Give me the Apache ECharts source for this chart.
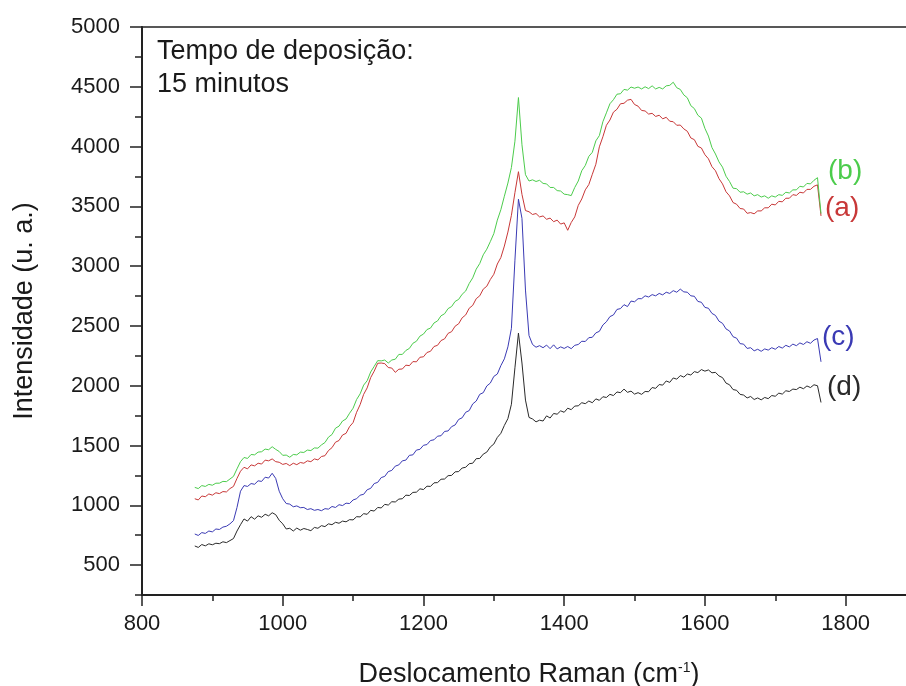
<!DOCTYPE html>
<html>
<head>
<meta charset="utf-8">
<script src="https://cdn.jsdelivr.net/npm/echarts@6/dist/echarts.min.js"></script>
<style>
  html, body { margin: 0; padding: 0; background: #fff; }
  #chart { width: 906px; height: 686px; }
</style>
</head>
<body>
<div id="chart"></div>
<script>
// Raman shift (cm-1) sampled every 5 cm-1
const ramanShift = [
  875,880,885,890,895,900,905,910,915,920,925,930,935,940,945,950,955,960,965,970,
  975,980,985,990,995,1000,1005,1010,1015,1020,1025,1030,1035,1040,1045,1050,1055,1060,1065,1070,
  1075,1080,1085,1090,1095,1100,1105,1110,1115,1120,1125,1130,1135,1140,1145,1150,1155,1160,1165,1170,
  1175,1180,1185,1190,1195,1200,1205,1210,1215,1220,1225,1230,1235,1240,1245,1250,1255,1260,1265,1270,
  1275,1280,1285,1290,1295,1300,1305,1310,1315,1320,1325,1330,1335,1340,1345,1350,1355,1360,1365,1370,
  1375,1380,1385,1390,1395,1400,1405,1410,1415,1420,1425,1430,1435,1440,1445,1450,1455,1460,1465,1470,
  1475,1480,1485,1490,1495,1500,1505,1510,1515,1520,1525,1530,1535,1540,1545,1550,1555,1560,1565,1570,
  1575,1580,1585,1590,1595,1600,1605,1610,1615,1620,1625,1630,1635,1640,1645,1650,1655,1660,1665,1670,
  1675,1680,1685,1690,1695,1700,1705,1710,1715,1720,1725,1730,1735,1740,1745,1750,1755,1760,1765
];

// Spectrum (a)
const spectrumA = [
  1055,1045,1078,1072,1095,1085,1105,1098,1115,1112,1140,1158,1225,1285,1318,1305,1338,1330,1352,1345,
  1378,1372,1388,1365,1360,1342,1350,1332,1352,1340,1358,1352,1372,1365,1388,1380,1408,1415,1458,1482,
  1528,1542,1588,1602,1658,1692,1778,1842,1928,1982,2068,2122,2188,2190,2185,2152,2148,2112,2138,2140,
  2172,2168,2202,2200,2238,2242,2278,2288,2328,2338,2378,2392,2438,2452,2498,2518,2568,2592,2648,2672,
  2728,2752,2808,2832,2888,2932,3018,3072,3168,3285,3425,3615,3790,3600,3465,3455,3432,3440,3412,3420,
  3392,3402,3372,3385,3352,3362,3300,3365,3412,3508,3562,3638,3682,3768,3852,3998,4082,4178,4222,4288,
  4312,4358,4362,4388,4395,4352,4338,4302,4298,4272,4278,4252,4262,4232,4245,4212,4208,4178,4180,4148,
  4128,4072,4058,4002,3988,3932,3898,3832,3798,3732,3688,3622,3588,3532,3518,3482,3478,3442,3448,3438,
  3462,3462,3488,3488,3518,3512,3542,3538,3568,3568,3598,3592,3618,3612,3642,3642,3668,3680,3420
];

// Spectrum (b)
const spectrumB = [
  1150,1140,1165,1158,1175,1168,1185,1185,1200,1198,1220,1242,1305,1365,1400,1392,1425,1422,1445,1448,
  1470,1465,1490,1468,1450,1418,1420,1402,1425,1422,1445,1442,1462,1458,1480,1478,1505,1525,1570,1592,
  1645,1662,1705,1722,1770,1812,1885,1932,2005,2042,2115,2162,2210,2208,2215,2190,2215,2222,2262,2262,
  2295,2312,2355,2372,2415,2432,2470,2482,2525,2542,2585,2602,2645,2662,2705,2722,2765,2792,2855,2902,
  2975,3022,3095,3142,3205,3272,3385,3472,3585,3695,3825,4045,4410,4015,3765,3712,3722,3708,3718,3692,
  3688,3658,3658,3632,3628,3602,3598,3590,3658,3712,3798,3842,3918,3952,4048,4092,4208,4282,4358,4392,
  4438,4442,4478,4472,4498,4488,4498,4482,4500,4485,4508,4482,4495,4482,4508,4512,4538,4492,4478,4432,
  4408,4342,4318,4262,4238,4152,4088,3992,3938,3872,3828,3752,3708,3652,3648,3618,3622,3602,3612,3588,
  3598,3578,3588,3568,3588,3578,3598,3592,3618,3612,3638,3638,3668,3662,3692,3688,3718,3740,3440
];

// Spectrum (c)
const spectrumC = [
  760,748,772,765,785,778,802,798,818,825,845,872,982,1118,1165,1158,1182,1176,1205,1200,
  1235,1228,1268,1225,1118,1055,1015,1010,988,995,980,982,965,972,958,965,955,972,968,990,
  982,1005,998,1018,1015,1045,1055,1085,1092,1130,1142,1182,1192,1232,1242,1282,1292,1328,1338,1372,
  1378,1418,1422,1462,1468,1502,1508,1542,1548,1578,1582,1618,1622,1658,1672,1718,1732,1778,1792,1848,
  1872,1928,1942,1998,2022,2078,2098,2168,2225,2325,2480,3050,3560,3400,2800,2420,2345,2322,2335,2318,
  2340,2310,2342,2308,2325,2312,2328,2310,2338,2345,2372,2370,2402,2405,2442,2455,2508,2535,2578,2592,
  2638,2645,2678,2662,2708,2702,2728,2728,2752,2742,2762,2752,2772,2760,2782,2772,2795,2782,2808,2785,
  2782,2752,2748,2705,2698,2655,2648,2605,2588,2540,2522,2475,2458,2410,2398,2352,2348,2312,2318,2292,
  2305,2288,2308,2298,2318,2305,2328,2315,2338,2325,2348,2335,2358,2345,2368,2355,2382,2395,2200
];

// Spectrum (d)
const spectrumD = [
  660,648,672,661,678,670,683,679,695,688,705,722,785,838,886,868,905,884,912,900,
  925,912,938,922,875,845,802,808,785,810,792,806,798,788,815,808,830,822,845,838,
  858,850,868,862,880,878,905,903,930,925,958,952,982,978,1008,1002,1030,1028,1052,1055,
  1085,1082,1108,1110,1138,1132,1160,1158,1188,1190,1218,1220,1248,1250,1280,1282,1312,1318,1348,1352,
  1390,1392,1428,1445,1488,1512,1568,1602,1668,1725,1845,2150,2440,2190,1880,1735,1722,1698,1712,1705,
  1748,1730,1768,1762,1790,1778,1812,1800,1830,1832,1858,1850,1872,1858,1890,1878,1908,1902,1928,1918,
  1948,1942,1972,1945,1955,1930,1942,1928,1952,1950,1985,1978,2010,2005,2040,2028,2065,2055,2085,2072,
  2098,2090,2118,2110,2135,2122,2132,2108,2112,2082,2068,2022,2008,1968,1962,1928,1922,1898,1910,1885,
  1898,1882,1902,1892,1918,1912,1938,1930,1958,1952,1972,1968,1988,1975,1998,1985,2008,2000,1860
];

// Axis tick values
const xMajorTicks = [800, 1000, 1200, 1400, 1600, 1800];
const yMajorTicks = [500, 1000, 1500, 2000, 2500, 3000, 3500, 4000, 4500, 5000];

const seriesNames = ['(a)', '(b)', '(c)', '(d)'];
const seriesColors = ['#c83838', '#4ccc4c', '#3a3ab4', '#2a2a2a'];
const seriesData = [spectrumA, spectrumB, spectrumC, spectrumD];

const FONT = '"Liberation Sans", Arial, Helvetica, sans-serif';
const INK = '#1a1a1a';

const chart = echarts.init(document.getElementById('chart'), null, { renderer: 'canvas' });

const pairs = arr => ramanShift.map((x, i) => [x, arr[i]]);

const series = [3, 2, 0, 1].map(k => ({
  name: seriesNames[k],
  type: 'line',
  xAxisIndex: 0,
  yAxisIndex: 0,
  data: pairs(seriesData[k]),
  showSymbol: false,
  symbol: 'none',
  lineStyle: { color: seriesColors[k], width: 1 },
  itemStyle: { color: seriesColors[k] },
  silent: true,
  z: 3
}));

chart.setOption({
  animation: false,
  backgroundColor: '#ffffff',
  textStyle: { fontFamily: FONT },
  grid: {
    left: 142, top: 27, right: -10, bottom: 91,
    outerBoundsMode: 'none',
    containLabel: false,
    show: true, borderColor: '#222', borderWidth: 1.5,
    backgroundColor: 'transparent'
  },
  xAxis: [
    {
      type: 'value', min: 800, max: 1900, interval: 200,
      position: 'bottom',
      axisLine: { show: true, onZero: false, lineStyle: { color: '#222', width: 2 } },
      axisTick: { show: true, inside: false, length: 11, lineStyle: { color: '#222', width: 1.5 } },
      axisLabel: {
        show: true, margin: 18, fontSize: 22, color: INK, fontFamily: FONT,
        formatter: v => (xMajorTicks.indexOf(v) >= 0 ? String(v) : '')
      },
      splitLine: { show: false },
      name: 'Deslocamento Raman (cm{sup|-1})',
      nameLocation: 'middle',
      nameGap: 66,
      nameTextStyle: {
        fontSize: 27, color: INK, fontFamily: FONT,
        rich: { sup: { fontSize: 14, color: INK, fontFamily: FONT, padding: [0, 0, 14, 0] } }
      }
    },
    {
      type: 'value', min: 800, max: 1900, interval: 100,
      position: 'bottom', offset: 0,
      axisLine: { show: false, onZero: false },
      axisTick: { show: true, inside: false, length: 6, lineStyle: { color: '#222', width: 1.5 } },
      axisLabel: { show: false },
      splitLine: { show: false }
    }
  ],
  yAxis: [
    {
      type: 'value', min: 250, max: 5000, interval: 250,
      position: 'left',
      axisLine: { show: true, onZero: false, lineStyle: { color: '#222', width: 2 } },
      axisTick: { show: true, inside: false, length: 7, lineStyle: { color: '#222', width: 1.5 } },
      axisLabel: {
        show: true, margin: 22, fontSize: 22, color: INK, fontFamily: FONT,
        formatter: v => (yMajorTicks.indexOf(v) >= 0 ? String(v) : '')
      },
      splitLine: { show: false },
      name: 'Intensidade (u. a.)',
      nameLocation: 'middle',
      nameGap: 104,
      nameRotate: 90,
      nameTextStyle: { fontSize: 27, color: INK, fontFamily: FONT }
    },
    {
      type: 'value', min: 250, max: 5000, interval: 250,
      position: 'left', offset: 0,
      axisLine: { show: false, onZero: false },
      axisTick: {
        show: true, inside: false, length: 12,
        lineStyle: { color: '#222', width: 1.5 },
        customValues: yMajorTicks
      },
      axisLabel: { show: false },
      splitLine: { show: false }
    }
  ],
  graphic: [
    {
      type: 'text', left: 157, top: 35, silent: true,
      style: {
        text: 'Tempo de deposição:\n15 minutos',
        font: '27px ' + FONT, fill: INK, lineHeight: 33
      }
    },
    { type: 'text', left: 828, top: 157, silent: true,
      style: { text: seriesNames[1], font: '28px ' + FONT, fill: seriesColors[1] } },
    { type: 'text', left: 825, top: 194, silent: true,
      style: { text: seriesNames[0], font: '28px ' + FONT, fill: seriesColors[0] } },
    { type: 'text', left: 822, top: 323, silent: true,
      style: { text: seriesNames[2], font: '28px ' + FONT, fill: seriesColors[2] } },
    { type: 'text', left: 827, top: 373, silent: true,
      style: { text: seriesNames[3], font: '28px ' + FONT, fill: seriesColors[3] } }
  ],
  series: series
});
</script>
</body>
</html>
